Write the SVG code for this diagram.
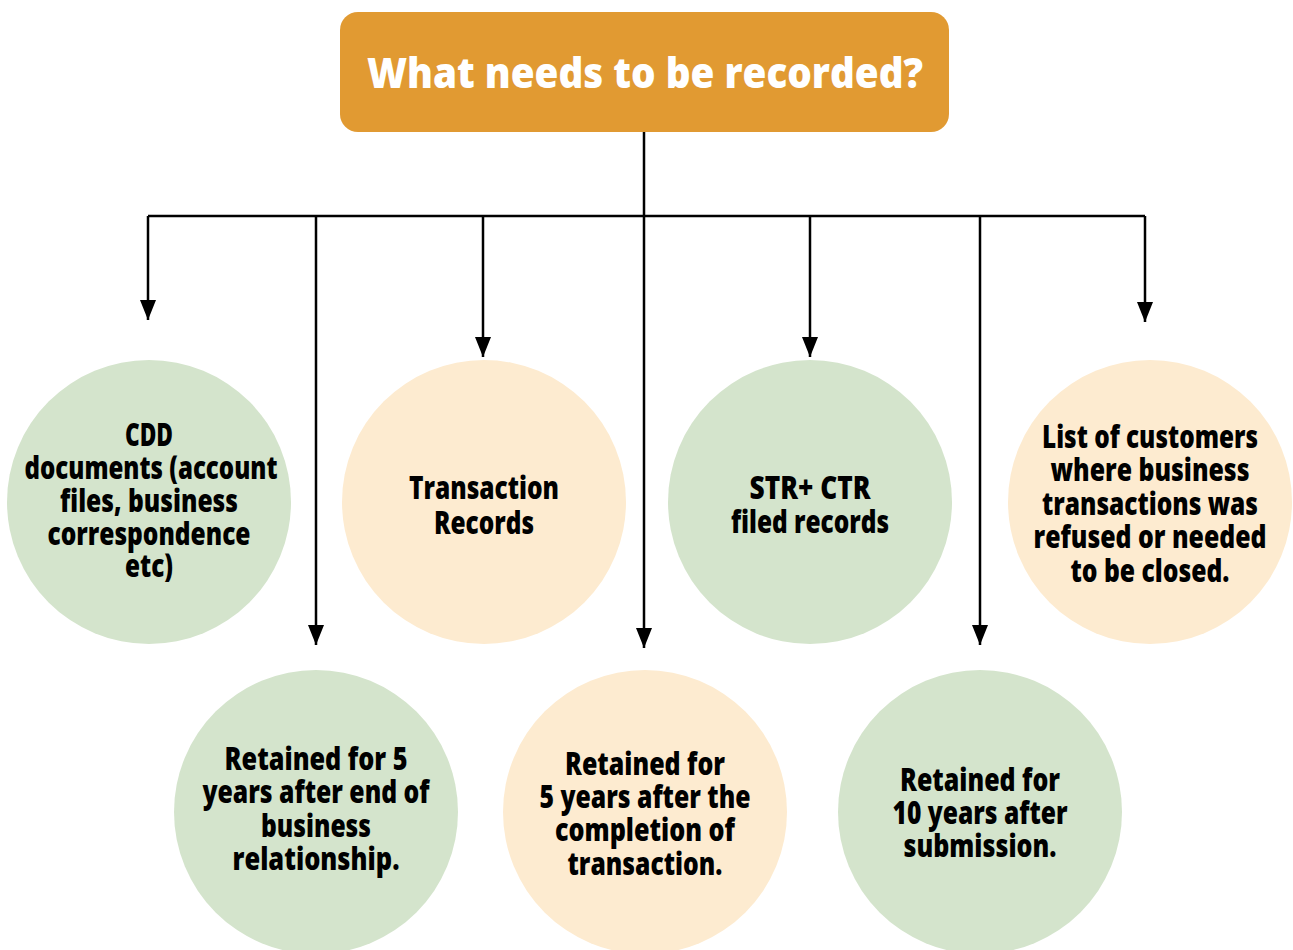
<svg xmlns="http://www.w3.org/2000/svg" width="1293" height="950" viewBox="0 0 1293 950">
  <style>
    .head { fill: #e19a32; }
    .green { fill: #d4e4cc; }
    .cream { fill: #fdebd0; }
    .title { font-family: "Open Sans", "Liberation Sans", sans-serif; font-weight: 800; font-size: 43px; fill: #ffffff; text-anchor: middle; }
    .lbl { font-family: "Open Sans", "Liberation Sans", sans-serif; font-weight: 800; font-size: 32px; fill: #000000; text-anchor: middle; }
    .wire { fill: none; stroke: #000000; stroke-width: 2.5; }
    .drop { fill: none; stroke: #000000; stroke-width: 2.5; marker-end: url(#arrow); }
  </style>
  <defs>
    <marker id="arrow" markerUnits="userSpaceOnUse" markerWidth="22" markerHeight="18" refX="20" refY="8" orient="auto" viewBox="0 0 22 18">
      <path d="M0,0 L20,8 L0,16 Z" fill="#000000"/>
    </marker>
  </defs>

  <rect width="1293" height="950" fill="#ffffff"/>

  <!-- connectors -->
  <g id="connectors">
    <path class="wire" d="M644,132 V216 M148,216 H1145"/>
    <path class="drop" d="M148,216 V320"/>
    <path class="drop" d="M316,216 V645"/>
    <path class="drop" d="M483,216 V357"/>
    <path class="drop" d="M644,216 V648"/>
    <path class="drop" d="M810,216 V357"/>
    <path class="drop" d="M980,216 V645"/>
    <path class="drop" d="M1145,216 V322"/>
  </g>

  <!-- root -->
  <g id="root">
    <rect class="head" x="340" y="12" width="609" height="120" rx="18"/>
    <text class="title" x="645" y="88" textLength="556" lengthAdjust="spacingAndGlyphs">What needs to be recorded?</text>
  </g>

  <!-- upper row -->
  <g id="cdd">
    <circle class="green" cx="149" cy="502" r="142"/>
    <text class="lbl" x="149" y="446" textLength="48" lengthAdjust="spacingAndGlyphs">CDD</text>
    <text class="lbl" x="151" y="479" textLength="253" lengthAdjust="spacingAndGlyphs">documents (account</text>
    <text class="lbl" x="149" y="512" textLength="178" lengthAdjust="spacingAndGlyphs">files, business</text>
    <text class="lbl" x="149" y="545" textLength="203" lengthAdjust="spacingAndGlyphs">correspondence</text>
    <text class="lbl" x="149" y="577" textLength="48" lengthAdjust="spacingAndGlyphs">etc)</text>
  </g>

  <g id="transaction">
    <circle class="cream" cx="484" cy="502" r="142"/>
    <text class="lbl" x="484" y="499" textLength="150" lengthAdjust="spacingAndGlyphs">Transaction</text>
    <text class="lbl" x="484" y="534" textLength="100" lengthAdjust="spacingAndGlyphs">Records</text>
  </g>

  <g id="str-ctr">
    <circle class="green" cx="810" cy="502" r="142"/>
    <text class="lbl" x="810" y="499" textLength="121" lengthAdjust="spacingAndGlyphs">STR+ CTR</text>
    <text class="lbl" x="810" y="533" textLength="158" lengthAdjust="spacingAndGlyphs">filed records</text>
  </g>

  <g id="refused">
    <circle class="cream" cx="1150" cy="502" r="142"/>
    <text class="lbl" x="1150" y="448" textLength="216" lengthAdjust="spacingAndGlyphs">List of customers</text>
    <text class="lbl" x="1150" y="481" textLength="199" lengthAdjust="spacingAndGlyphs">where business</text>
    <text class="lbl" x="1150" y="515" textLength="216" lengthAdjust="spacingAndGlyphs">transactions was</text>
    <text class="lbl" x="1150" y="548" textLength="233" lengthAdjust="spacingAndGlyphs">refused or needed</text>
    <text class="lbl" x="1150" y="582" textLength="159" lengthAdjust="spacingAndGlyphs">to be closed.</text>
  </g>

  <!-- lower row -->
  <g id="keep-relationship">
    <circle class="green" cx="316" cy="812" r="142"/>
    <text class="lbl" x="316" y="770" textLength="183" lengthAdjust="spacingAndGlyphs">Retained for 5</text>
    <text class="lbl" x="316" y="803" textLength="227" lengthAdjust="spacingAndGlyphs">years after end of</text>
    <text class="lbl" x="316" y="837" textLength="110" lengthAdjust="spacingAndGlyphs">business</text>
    <text class="lbl" x="316" y="870" textLength="167" lengthAdjust="spacingAndGlyphs">relationship.</text>
  </g>

  <g id="keep-transaction">
    <circle class="cream" cx="645" cy="812" r="142"/>
    <text class="lbl" x="645" y="775" textLength="160" lengthAdjust="spacingAndGlyphs">Retained for</text>
    <text class="lbl" x="645" y="808" textLength="211" lengthAdjust="spacingAndGlyphs">5 years after the</text>
    <text class="lbl" x="645" y="841" textLength="180" lengthAdjust="spacingAndGlyphs">completion of</text>
    <text class="lbl" x="645" y="875" textLength="155" lengthAdjust="spacingAndGlyphs">transaction.</text>
  </g>

  <g id="keep-submission">
    <circle class="green" cx="980" cy="812" r="142"/>
    <text class="lbl" x="980" y="791" textLength="160" lengthAdjust="spacingAndGlyphs">Retained for</text>
    <text class="lbl" x="980" y="824" textLength="175" lengthAdjust="spacingAndGlyphs">10 years after</text>
    <text class="lbl" x="980" y="857" textLength="153" lengthAdjust="spacingAndGlyphs">submission.</text>
  </g>
</svg>
